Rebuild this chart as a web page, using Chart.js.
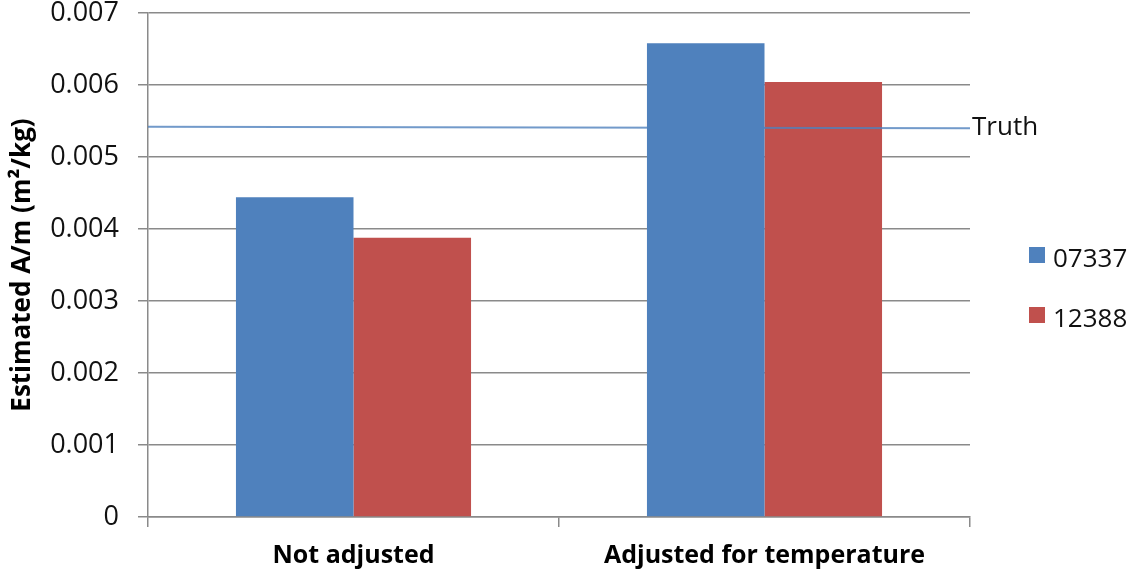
<!DOCTYPE html>
<html>
<head>
<meta charset="utf-8">
<script src="https://cdn.jsdelivr.net/npm/chart.js@4.4.1/dist/chart.umd.min.js"></script>
<style>
  html, body { margin: 0; padding: 0; background: #fff; }
  #wrap { width: 1136px; height: 575px; }
</style>
</head>
<body>
<div id="wrap"><canvas id="c" width="1136" height="575"></canvas></div>
<script>
const categories = ['Not adjusted', 'Adjusted for temperature'];
const seriesNames = ['07337', '12388'];
const values07337 = [0.00444, 0.00658];
const values12388 = [0.00388, 0.00604];
const truthLabel = 'Truth';
const truthValues = [0.00542, 0.00540];
// truth line runs across the whole category band (index space: left edge to right edge)
const truthSpan = [-0.5, 1.5];
const yTickLabels = ['0', '0.001', '0.002', '0.003', '0.004', '0.005', '0.006', '0.007'];
const yAxisTitle = 'Estimated A/m (m\u00B2/kg)';

const BLUE = '#4F81BD';
const RED = '#C0504D';
const GRID = '#8a8a8a';
const FONT = "'Open Sans', 'Liberation Sans', sans-serif";

const sideLegend = {
  id: 'sideLegend',
  afterDraw(chart) {
    const ctx = chart.ctx;
    const area = chart.chartArea;
    const bars = chart.data.datasets.filter(d => d.type === 'bar');
    ctx.save();
    ctx.font = '26px ' + FONT;
    ctx.textBaseline = 'alphabetic';
    ctx.textAlign = 'left';
    bars.forEach((ds, i) => {
      const base = 267 + i * 60;
      ctx.fillStyle = ds.backgroundColor;
      ctx.fillRect(area.right + 59, base - 20, 16, 16);
      ctx.fillStyle = '#111';
      ctx.fillText(ds.label, area.right + 83, base);
    });
    const idx = chart.data.datasets.findIndex(d => d.type === 'line');
    const meta = chart.getDatasetMeta(idx);
    const last = meta.data[meta.data.length - 1];
    ctx.fillStyle = '#111';
    ctx.fillText(chart.data.datasets[idx].label, last.x + 2, last.y + 7);
    ctx.restore();
  }
};

new Chart(document.getElementById('c'), {
  type: 'bar',
  data: {
    labels: categories,
    datasets: [
      { type: 'bar', label: seriesNames[0], data: values07337, backgroundColor: BLUE,
        categoryPercentage: 0.572, barPercentage: 1.0, order: 1 },
      { type: 'bar', label: seriesNames[1], data: values12388, backgroundColor: RED,
        categoryPercentage: 0.572, barPercentage: 1.0, order: 3 },
      { type: 'line', label: truthLabel, parsing: false,
        data: truthSpan.map((x, i) => ({ x: x, y: truthValues[i] })),
        borderColor: 'rgba(79,129,189,0.8)', borderWidth: 2, pointRadius: 0, fill: false, order: 2 }
    ]
  },
  options: {
    responsive: false,
    animation: false,
    devicePixelRatio: 1,
    layout: { padding: { left: 0, right: 166, top: 13, bottom: 0 } },
    plugins: { legend: { display: false }, tooltip: { enabled: false } },
    scales: {
      x: {
        type: 'category',
        offset: true,
        grid: { offset: true, drawOnChartArea: false, drawTicks: true, tickLength: 10, color: GRID, lineWidth: 1.5 },
        border: { display: true, color: GRID, width: 1.5 },
        ticks: { color: '#000', font: { family: FONT, size: 25, weight: 'bold' }, padding: 14, maxRotation: 0 },
        afterFit(scale) { scale.height = 58; scale.paddingLeft = 0; scale.paddingRight = 0; }
      },
      y: {
        min: 0, max: 0.007,
        ticks: {
          stepSize: 0.001, color: '#111', padding: 19,
          font: { family: FONT, size: 27, lineHeight: 1 },
          callback: (v, i) => yTickLabels[i]
        },
        grid: { color: GRID, lineWidth: 1.5, tickLength: 10 },
        border: { display: true, color: GRID, width: 1.5 },
        title: { display: true, text: yAxisTitle, color: '#000', font: { family: FONT, size: 26, weight: 'bold' }, padding: { top: 7, bottom: 0 } },
        afterFit(scale) { scale.width = 148; scale.paddingTop = 0; scale.paddingBottom = 0; }
      }
    }
  },
  plugins: [sideLegend]
});
</script>
</body>
</html>
